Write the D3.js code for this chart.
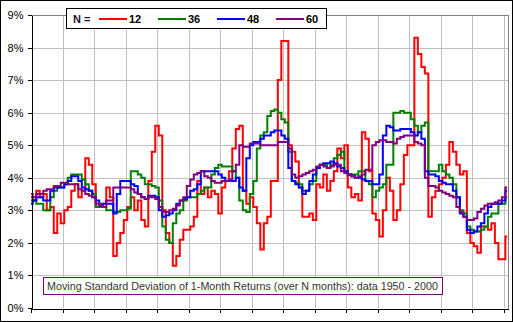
<!DOCTYPE html>
<html>
<head>
<meta charset="utf-8">
<script src="https://cdn.jsdelivr.net/npm/d3@7"></script>
<style>
  html, body { margin: 0; padding: 0; background: #fff; }
  svg { display: block; font-family: "Liberation Sans", Arial, sans-serif; }
</style>
</head>
<body>
<svg id="chart" width="513" height="322"></svg>
<script>
// Moving standard deviation of monthly returns, sampled every 4 months (values in %)
const monthCount = 545;
const sampleStep = 4;
const tickEvery = 36;
const windows = ["12", "36", "48", "60"];
const colors = ["#ff0000", "#008000", "#0000ff", "#800080"];
const yTicks = [0, 1, 2, 3, 4, 5, 6, 7, 8, 9];
const titleText = "Moving Standard Deviation of 1-Month Returns (over N months): data 1950 - 2000";

const sd12 = [
  3.5,3.3,3.6,3.4,3.5,3.0,3.1,2.3,2.9,2.6,
  3.0,3.1,3.6,3.8,3.4,3.6,4.6,4.4,3.8,3.1,
  3.2,3.2,3.7,3.4,1.6,2.0,2.3,2.7,3.1,3.4,
  3.0,3.3,2.7,2.5,3.9,4.8,5.6,5.3,3.0,2.3,
  2.0,1.3,1.6,2.1,2.4,2.4,2.5,2.8,3.9,3.5,
  3.7,3.4,3.6,3.5,2.9,3.7,3.9,4.2,4.9,5.5,
  5.6,3.6,3.2,3.4,3.1,2.6,1.8,2.6,2.8,3.9,
  3.9,7.0,8.2,8.2,5.0,4.8,4.5,3.7,2.8,2.8,
  2.9,2.7,3.8,3.7,4.1,3.6,3.9,4.2,4.9,4.6,
  5.0,3.7,3.4,3.5,3.3,5.4,5.2,4.2,2.9,2.7,
  2.2,3.0,4.0,3.6,2.7,3.0,3.8,4.7,5.0,5.0,
  8.3,7.8,7.4,7.2,2.8,3.4,3.6,3.8,4.0,4.4,
  5.1,4.8,4.4,4.1,4.2,2.3,2.0,1.9,1.7,2.5,
  2.5,2.4,2.6,2.0,1.5,1.5,2.2
];
const sd36 = [
  3.3,3.3,3.2,3.2,3.0,3.0,3.4,3.6,3.7,3.7,
  3.8,4.0,4.1,4.1,4.1,3.95,3.8,3.6,3.5,3.1,
  3.1,3.1,3.0,3.0,2.95,2.95,3.0,3.0,3.05,4.2,
  4.2,4.1,4.0,3.8,3.8,3.75,3.7,3.3,2.5,2.1,
  2.0,2.6,2.9,3.0,3.3,3.4,3.4,3.4,3.5,3.6,
  3.7,3.7,4.1,4.3,4.4,4.35,4.35,4.35,4.2,4.0,
  3.3,3.0,2.95,3.5,3.9,4.9,5.3,5.4,5.9,6.05,
  6.1,6.0,5.8,5.7,4.8,3.9,3.85,3.8,3.6,3.6,
  3.8,3.9,4.3,4.4,4.4,4.3,4.4,4.6,4.7,4.8,
  4.2,4.1,4.1,4.1,4.2,4.2,3.9,3.8,3.4,3.6,
  3.7,3.8,4.4,4.4,6.0,6.0,6.05,6.0,6.0,5.8,
  5.6,5.4,5.6,5.7,4.2,4.2,4.2,4.4,4.2,4.1,
  4.0,3.8,3.4,3.0,2.9,2.5,2.4,2.35,2.35,2.4,
  2.5,2.8,2.9,2.9,3.2,3.2,3.4
];
const sd48 = [
  3.2,3.3,3.4,3.4,3.3,3.3,3.6,3.7,3.7,3.7,
  3.8,3.9,4.05,4.05,3.9,3.7,3.65,3.6,3.4,3.3,
  3.15,3.2,3.2,3.2,2.9,3.5,3.9,3.9,3.9,3.8,
  3.75,3.5,3.4,3.35,3.45,3.45,3.4,3.0,2.8,2.85,
  2.9,3.0,3.2,3.3,3.35,3.4,3.6,3.65,3.8,4.2,
  4.2,4.2,4.2,4.2,4.1,4.0,3.9,3.9,3.9,4.0,
  3.7,3.6,4.6,5.0,5.1,5.1,5.2,5.3,5.3,5.4,
  5.45,5.45,5.3,5.2,4.3,3.9,3.8,3.7,3.5,3.6,
  3.9,4.1,4.3,4.4,4.45,4.45,4.5,4.45,4.35,4.3,
  4.2,4.1,4.05,4.0,4.0,3.95,3.9,3.9,3.8,3.8,
  4.1,5.3,5.6,5.55,5.45,5.45,5.5,5.5,5.5,5.4,
  5.3,5.4,5.2,4.2,4.1,4.1,4.05,3.9,3.85,3.8,
  3.8,3.6,3.4,2.9,2.8,2.4,2.3,2.35,2.5,2.6,
  2.9,3.1,3.2,3.2,3.2,3.3,3.6
];
const sd60 = [
  3.4,3.4,3.5,3.5,3.6,3.65,3.65,3.75,3.75,3.85,
  3.85,3.8,3.8,3.8,3.65,3.6,3.5,3.45,3.4,3.2,
  3.15,3.1,3.3,3.3,3.7,3.7,3.7,3.7,3.7,3.65,
  3.55,3.5,3.4,3.35,3.4,3.4,3.35,3.1,2.95,2.95,
  3.0,3.05,3.15,3.3,3.4,3.75,3.95,4.1,4.15,4.2,
  4.05,4.0,3.9,3.85,3.85,3.9,3.9,3.95,4.2,4.4,
  5.0,4.95,4.95,5.05,5.05,5.05,5.0,5.0,5.0,5.0,
  5.0,5.1,5.1,5.1,4.9,4.1,4.0,4.05,4.1,4.15,
  4.2,4.25,4.35,4.4,4.35,4.3,4.35,4.4,4.4,4.2,
  4.15,4.1,4.05,4.0,4.05,4.1,4.25,4.25,5.0,5.1,
  5.15,5.15,5.1,5.1,5.05,5.2,5.25,5.3,5.3,5.3,
  5.1,5.05,5.0,4.0,3.75,3.75,3.7,3.6,3.55,3.5,
  3.45,3.4,3.1,2.95,2.8,2.7,2.7,2.75,2.95,3.05,
  3.15,3.2,3.2,3.25,3.3,3.4,3.7
];
const seriesValues = [sd12, sd36, sd48, sd60];

const svg = d3.select("#chart");
const W = 513, H = 322;
const plot = { left: 31, right: 508, top: 15, bottom: 308 };

// outer frame
svg.append("rect").attr("x", 0.5).attr("y", 0.5).attr("width", W - 1).attr("height", H - 1)
  .attr("fill", "#fff").attr("stroke", "#000").attr("stroke-width", 1);

const x = d3.scaleLinear().domain([0, monthCount]).range([plot.left, plot.right]);
const y = d3.scaleLinear().domain([0, 9]).range([plot.bottom, plot.top]);

const crisp = v => Math.round(v) + 0.5;

// gridlines
const grid = svg.append("g").attr("shape-rendering", "crispEdges");
grid.selectAll("line.h").data(yTicks.filter(d => d > 0 && d < 9)).join("line")
  .attr("x1", plot.left).attr("x2", plot.right)
  .attr("y1", d => crisp(y(d))).attr("y2", d => crisp(y(d)))
  .attr("stroke", "#c0c0c0");
const xTicks = d3.range(0, monthCount, tickEvery);
grid.selectAll("line.v").data(xTicks.filter(d => d > 0)).join("line")
  .attr("y1", plot.top).attr("y2", plot.bottom)
  .attr("x1", d => crisp(x(d))).attr("x2", d => crisp(x(d)))
  .attr("stroke", "#c0c0c0");
// top and right frame of the plot area
grid.append("path")
  .attr("d", `M${crisp(plot.left)},${crisp(plot.top)}H${crisp(plot.right)}V${crisp(plot.bottom)}`)
  .attr("fill", "none").attr("stroke", "#808080");

// series lines (month-to-month stair shape)
const months = d3.range(0, monthCount, sampleStep);
const line = d3.line().curve(d3.curveStep).x((d, i) => x(months[i])).y(d => y(d));
svg.append("g").selectAll("path").data(seriesValues).join("path")
  .attr("d", d => line(d))
  .attr("fill", "none")
  .attr("stroke", (d, i) => colors[i])
  .attr("stroke-width", 2)
  .attr("stroke-linejoin", "miter");

// axes
const yAxis = d3.axisLeft(y).tickValues(yTicks).tickFormat(d => d + "%")
  .tickSizeInner(4).tickSizeOuter(0).tickPadding(4);
const gy = svg.append("g").attr("transform", `translate(${crisp(plot.left)},0)`).call(yAxis);
gy.selectAll(".tick").attr("transform", d => `translate(0,${crisp(y(d))})`);
gy.selectAll("text").attr("font-size", 11).attr("fill", "#000")
  .attr("font-family", "'Liberation Sans', Arial, sans-serif");
gy.selectAll("line,path").attr("stroke", "#000").attr("shape-rendering", "crispEdges");

const xAxis = d3.axisBottom(x).tickValues(xTicks).tickFormat("")
  .tickSizeInner(4).tickSizeOuter(0);
const gx = svg.append("g").attr("transform", `translate(0,${crisp(plot.bottom)})`).call(xAxis);
gx.selectAll(".tick").attr("transform", d => `translate(${crisp(x(d))},0)`);
gx.selectAll("line,path").attr("stroke", "#000").attr("shape-rendering", "crispEdges");

// legend
const lg = svg.append("g");
lg.append("rect").attr("x", 66.5).attr("y", 8.5).attr("width", 260).attr("height", 20)
  .attr("fill", "#fff").attr("stroke", "#000").attr("shape-rendering", "crispEdges");
lg.append("text").attr("x", 73).attr("y", 22.5).attr("font-size", 11).attr("font-weight", "bold")
  .attr("fill", "#1a1030").text("N =");
const legendX = [99, 158, 217, 276];
windows.forEach((name, i) => {
  lg.append("line").attr("x1", legendX[i]).attr("x2", legendX[i] + 28)
    .attr("y1", 19).attr("y2", 19).attr("stroke", colors[i]).attr("stroke-width", 2);
  lg.append("text").attr("x", legendX[i] + 30).attr("y", 22.5)
    .attr("font-size", 11).attr("font-weight", "bold").attr("fill", "#000").text(name);
});

// caption box
const cap = svg.append("g");
cap.append("rect").attr("x", 43.5).attr("y", 277.5).attr("width", 399).attr("height", 17)
  .attr("fill", "#fff").attr("stroke", "#800080").attr("shape-rendering", "crispEdges");
cap.append("text").attr("x", 47).attr("y", 290).attr("font-size", 11).attr("fill", "#333")
  .attr("textLength", 391).attr("lengthAdjust", "spacingAndGlyphs").text(titleText);
</script>
</body>
</html>
